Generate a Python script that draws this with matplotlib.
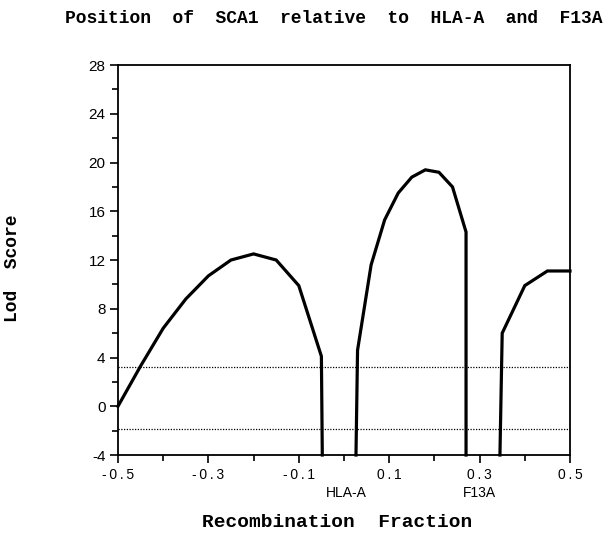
import matplotlib
matplotlib.use("Agg")
import matplotlib.pyplot as plt
from matplotlib.ticker import MultipleLocator, FixedLocator

# Lod score curve, three segments (values below the axis floor shown at -4)
seg1_x = [-0.5, -0.45, -0.4, -0.35, -0.3, -0.25, -0.2, -0.15, -0.1, -0.05, -0.048]
seg1_y = [0.0, 3.3, 6.4, 8.8, 10.7, 12.0, 12.5, 12.0, 9.9, 4.1, -4.0]
seg2_x = [0.0265, 0.03, 0.06, 0.09, 0.12, 0.15, 0.18, 0.21, 0.24, 0.27, 0.27]
seg2_y = [-4.0, 4.6, 11.6, 15.3, 17.5, 18.8, 19.4, 19.2, 18.0, 14.3, -4.0]
seg3_x = [0.345, 0.35, 0.4, 0.45, 0.5]
seg3_y = [-4.0, 6.0, 9.9, 11.1, 11.1]

threshold_levels = [3.2, -1.9]

x_major = [-0.5, -0.3, -0.1, 0.1, 0.3, 0.5]
x_minor = [-0.4, -0.2, 0.0, 0.2, 0.4]
y_major = [-4, 0, 4, 8, 12, 16, 20, 24, 28]

markers = ["HLA-A", "F13A"]
marker_x = [0.005, 0.30]

fig = plt.figure(figsize=(6.11, 5.36), dpi=100)
ax = fig.add_axes([0.1931, 0.1511, 0.7398, 0.7276])

for sx, sy in [(seg1_x, seg1_y), (seg2_x, seg2_y), (seg3_x, seg3_y)]:
    ax.plot(sx, sy, color="black", lw=2.3, solid_joinstyle="miter", clip_on=False)

for lv in threshold_levels:
    ax.axhline(lv, color="black", lw=0.9, ls=(0, (1, 1.2)))

ax.set_xlim(-0.5, 0.5)
ax.set_ylim(-4, 28)

ax.xaxis.set_major_locator(FixedLocator(x_major))
ax.xaxis.set_minor_locator(FixedLocator(x_minor))
ax.set_xticklabels(["\u2009".join(f"{v:.1f}") for v in x_major],
                   family="Liberation Sans", fontsize=10)
ax.yaxis.set_major_locator(FixedLocator(y_major))
ax.yaxis.set_minor_locator(MultipleLocator(2))
ax.set_yticklabels([str(v) for v in y_major], family="Liberation Sans", fontsize=11)

ax.tick_params(which="major", direction="out", length=6, width=1.2, pad=3)
ax.tick_params(which="minor", direction="out", length=4, width=1.2)
for s in ax.spines.values():
    s.set_linewidth(1.3)

for name, mx in zip(markers, marker_x):
    ax.text(mx, -7.1, name, ha="center", va="center",
            family="Liberation Sans", fontsize=10)

fig.text(0.546, 0.9646, "Position  of  SCA1  relative  to  HLA-A  and  F13A",
         ha="center", va="center", family="Liberation Mono",
         fontweight="bold", fontsize=13)
fig.text(0.551, 0.026, "Recombination  Fraction", ha="center", va="center",
         family="Liberation Mono", fontweight="bold", fontsize=14)
fig.text(0.021, 0.50, "Lod  Score", ha="center", va="center", rotation=90,
         family="Liberation Mono", fontweight="bold", fontsize=13)

fig.savefig("out.png", dpi=100)
